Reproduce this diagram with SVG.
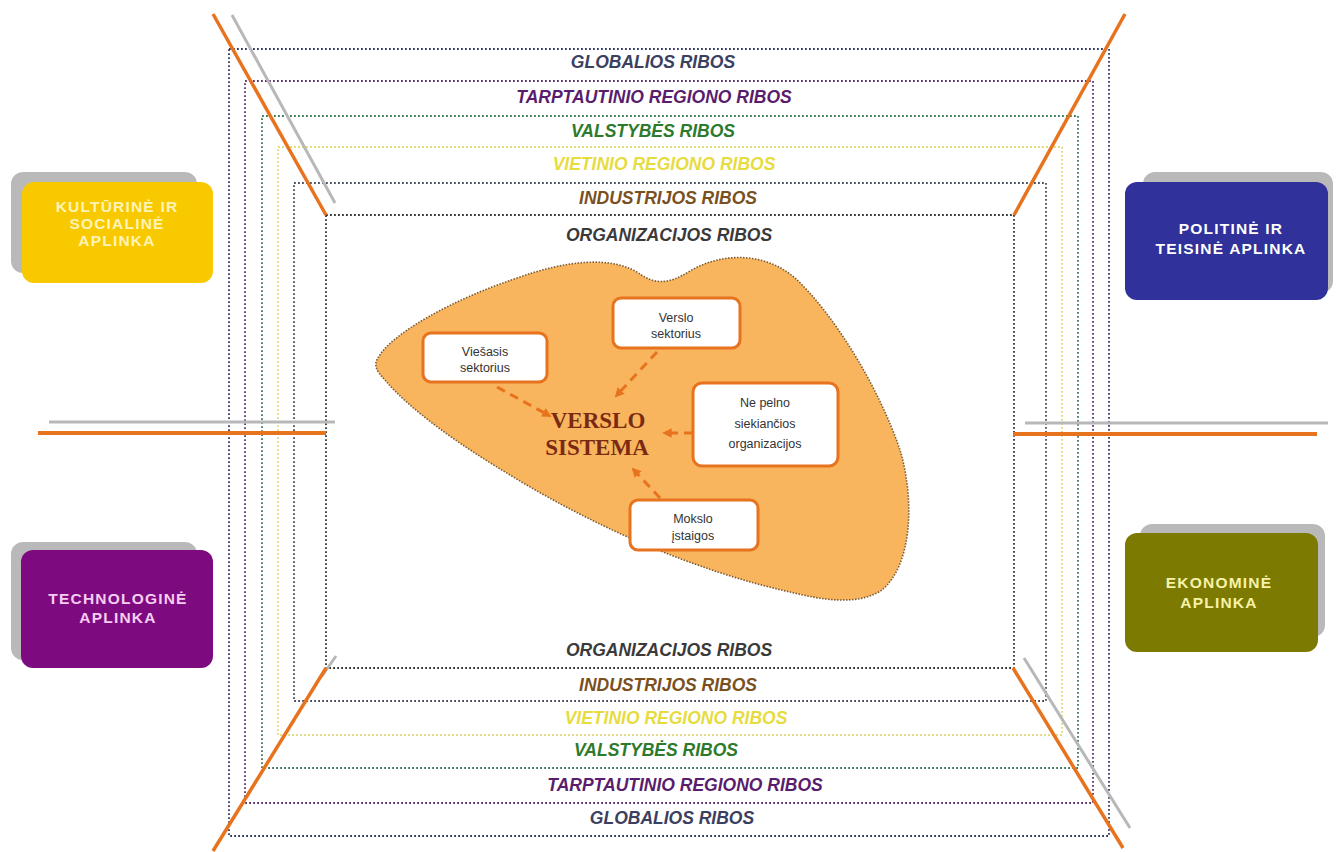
<svg xmlns="http://www.w3.org/2000/svg" width="1336" height="852" viewBox="0 0 1336 852">
<style>
.fr{fill:none;stroke-width:1.8;stroke-dasharray:1.8 2.2}
.lbl{font-family:"Liberation Sans",Arial,sans-serif;font-weight:bold;font-style:italic;font-size:17.5px;text-anchor:middle}
.side{font-family:"Liberation Sans",Arial,sans-serif;font-weight:bold;font-size:15.5px;letter-spacing:1.2px;text-anchor:middle}
.shadow{fill:#b9b9b9}
.ib{fill:#ffffff;stroke:#e8731e;stroke-width:3}
.it{font-family:"Liberation Sans",Arial,sans-serif;font-size:12.5px;fill:#333;text-anchor:middle}
.conn{fill:none;stroke:#e8731e;stroke-width:3;stroke-dasharray:9 6}
.orl{stroke:#e8731e;stroke-width:3.5;fill:none}
.gyl{stroke:#b8b8b8;stroke-width:3;fill:none}
</style>
<defs>
<marker id="ah" viewBox="0 0 10 10" refX="8" refY="5" markerWidth="3.2" markerHeight="3.2" orient="auto">
<path d="M0,0 L10,5 L0,10 Z" fill="#e8731e"/>
</marker>
</defs>
<rect width="1336" height="852" fill="#ffffff"/>

<g id="frames">
<rect class="fr" x="229" y="49" width="880" height="787" stroke="#343a66"/>
<rect class="fr" x="245" y="81" width="848" height="722" stroke="#5e3470"/>
<rect class="fr" x="262" y="116" width="816" height="652" stroke="#3a7a55"/>
<rect class="fr" x="278" y="147" width="784" height="588" stroke="#e2d870"/>
<rect class="fr" x="294" y="183" width="752" height="518" stroke="#464e5e"/>
<rect class="fr" x="326" y="215" width="688" height="453" stroke="#333333"/>
</g>

<g id="boundary-lines">
<line class="gyl" x1="232" y1="15" x2="335" y2="203"/>
<line class="orl" x1="213" y1="14" x2="326" y2="215"/>
<line class="orl" x1="1125" y1="14" x2="1014" y2="215"/>
<line class="gyl" x1="336" y1="656" x2="322" y2="676"/>
<line class="orl" x1="326" y1="668" x2="213" y2="851"/>
<line class="gyl" x1="1024" y1="658" x2="1130" y2="828"/>
<line class="orl" x1="1013" y1="668" x2="1123" y2="848"/>
<line class="gyl" x1="49" y1="422" x2="335" y2="422"/>
<line class="orl" x1="38" y1="433" x2="326" y2="433" style="stroke-width:4"/>
<line class="gyl" x1="1025" y1="423" x2="1328" y2="423"/>
<line class="orl" x1="1013" y1="434" x2="1317" y2="434" style="stroke-width:4"/>
</g>

<g id="labels">
<text class="lbl" x="653" y="68" fill="#3c4060">GLOBALIOS RIBOS</text>
<text class="lbl" x="654" y="103" fill="#5a1d6e">TARPTAUTINIO REGIONO RIBOS</text>
<text class="lbl" x="653" y="137" fill="#2d7a2d">VALSTYBĖS RIBOS</text>
<text class="lbl" x="664" y="170" fill="#e6dc40">VIETINIO REGIONO RIBOS</text>
<text class="lbl" x="668" y="204" fill="#7a5020">INDUSTRIJOS RIBOS</text>
<text class="lbl" x="669" y="241" fill="#3a3a3a">ORGANIZACIJOS RIBOS</text>
<text class="lbl" x="669" y="656" fill="#3a3a3a">ORGANIZACIJOS RIBOS</text>
<text class="lbl" x="668" y="691" fill="#7a5020">INDUSTRIJOS RIBOS</text>
<text class="lbl" x="676" y="724" fill="#e6dc40">VIETINIO REGIONO RIBOS</text>
<text class="lbl" x="656" y="756" fill="#2d7a2d">VALSTYBĖS RIBOS</text>
<text class="lbl" x="685" y="791" fill="#5a1d6e">TARPTAUTINIO REGIONO RIBOS</text>
<text class="lbl" x="672" y="824" fill="#3c4060">GLOBALIOS RIBOS</text>
</g>

<g id="kulturine">
<rect class="shadow" x="11" y="172" width="186" height="101" rx="12"/>
<rect x="22" y="182" width="191" height="101" rx="12" fill="#f9c900"/>
<text class="side" x="117" y="212" fill="#fff4b8">KULTŪRINĖ IR</text>
<text class="side" x="117" y="229" fill="#fff4b8">SOCIALINĖ</text>
<text class="side" x="117" y="246" fill="#fff4b8">APLINKA</text>
</g>

<g id="politine">
<rect class="shadow" x="1143" y="172" width="190" height="121" rx="12"/>
<rect x="1125" y="182" width="203" height="118" rx="12" fill="#30319a"/>
<text class="side" x="1231" y="234" fill="#ffffff">POLITINĖ IR</text>
<text class="side" x="1231" y="254" fill="#ffffff">TEISINĖ APLINKA</text>
</g>

<g id="technologine">
<rect class="shadow" x="11" y="542" width="186" height="118" rx="12"/>
<rect x="21" y="550" width="192" height="118" rx="12" fill="#7e0a80"/>
<text class="side" x="118" y="604" fill="#f6cdf2">TECHNOLOGINĖ</text>
<text class="side" x="118" y="623" fill="#f6cdf2">APLINKA</text>
</g>

<g id="ekonomine">
<rect class="shadow" x="1140" y="524" width="185" height="113" rx="12"/>
<rect x="1125" y="533" width="193" height="119" rx="12" fill="#7c7a00"/>
<text class="side" x="1219" y="588" fill="#f6f2a8">EKONOMINĖ</text>
<text class="side" x="1219" y="608" fill="#f6f2a8">APLINKA</text>
</g>

<g id="verslo-sistema">
<path d="M378,358 C390,335 450,300 520,277 C565,261 612,255 640,274 C654,284 668,285 690,271 C722,252 765,252 795,278 C835,315 880,390 900,450 C915,500 912,565 882,590 C858,606 822,600 790,592 C700,572 600,530 510,475 C460,445 410,410 385,380 C375,370 374,364 378,358 Z" fill="#f8b55e" stroke="#7a5a34" stroke-width="1.6" stroke-dasharray="1.5 1.5"/>
<text x="598" y="428" font-family="'Liberation Serif','Times New Roman',serif" font-weight="bold" font-size="23" fill="#7a2a12" text-anchor="middle">VERSLO</text>
<text x="597" y="455" font-family="'Liberation Serif','Times New Roman',serif" font-weight="bold" font-size="23" fill="#7a2a12" text-anchor="middle">SISTEMA</text>
</g>

<g id="viesasis">
<rect class="ib" x="423" y="333" width="124" height="49" rx="8"/>
<text class="it" x="485" y="356">Viešasis</text>
<text class="it" x="485" y="372">sektorius</text>
</g>

<g id="verslo-sektorius">
<rect class="ib" x="613" y="298" width="127" height="50" rx="8"/>
<text class="it" x="676" y="322">Verslo</text>
<text class="it" x="676" y="338">sektorius</text>
</g>

<g id="ne-pelno">
<rect class="ib" x="693" y="383" width="145" height="83" rx="9"/>
<text class="it" x="765" y="407">Ne pelno</text>
<text class="it" x="765" y="428">siekiančios</text>
<text class="it" x="765" y="448">organizacijos</text>
</g>

<g id="mokslo">
<rect class="ib" x="630" y="500" width="128" height="50" rx="8"/>
<text class="it" x="693" y="523">Mokslo</text>
<text class="it" x="693" y="540">įstaigos</text>
</g>

<g id="connectors">
<path class="conn" d="M497,387 L550,416" marker-end="url(#ah)"/>
<path class="conn" d="M657,352 L616,396" marker-end="url(#ah)"/>
<path class="conn" d="M693,433 L664,433" marker-end="url(#ah)"/>
<path class="conn" d="M660,498 L633,469" marker-end="url(#ah)"/>
</g>
</svg>
